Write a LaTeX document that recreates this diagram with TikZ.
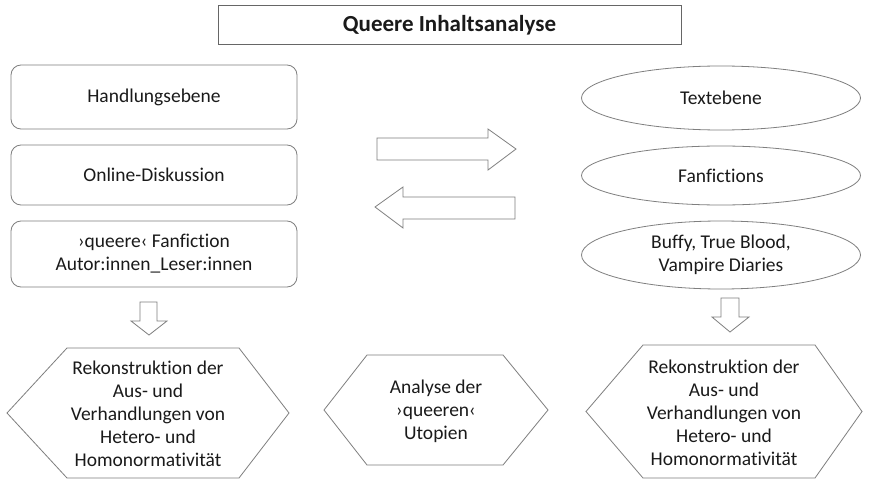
\documentclass[tikz,border=0pt]{standalone}
\usepackage{fontspec}
\setmainfont{Carlito}[Ligatures=NoCommon]
\usetikzlibrary{shapes.geometric}
\definecolor{linegray}{HTML}{7F7F7F}
\definecolor{textgray}{HTML}{1A1A1A}
\begin{document}
\begin{tikzpicture}[x=1pt,y=-1pt,
    every node/.style={text=textgray, align=center, inner sep=0pt,
      font=\fontsize{19.5}{23}\selectfont},
    titlebox/.style={draw=linegray!80!black, line width=1pt,
      minimum width=463pt, minimum height=39pt, font=\fontsize{23}{26}\selectfont\bfseries},
    roundbox/.style={draw=linegray, line width=0.8pt, rounded corners=10pt,
      minimum width=286pt},
    oval/.style={draw=linegray, line width=0.8pt, ellipse, minimum width=279pt},
    outline/.style={draw=linegray, fill=white, line width=0.8pt}]
  \useasboundingbox[fill=white] (0,0) rectangle (869,489);

  % title
  \node[titlebox] (title) at (449.5,25.5) {Queere Inhaltsanalyse};

  % left column: Handlungsebene
  \node[roundbox, minimum height=64pt] (handlung) at (154,97) {Handlungsebene};
  \node[roundbox, minimum height=60pt] (online) at (154,175) {Online-Diskussion};
  \node[roundbox, minimum height=66pt] (autoren) at (154,254)
    {›queere‹ Fanfiction\\Autor:innen\_Leser:innen};

  % right column: Textebene
  \node[oval, minimum height=64pt] (text) at (721,98) {Textebene};
  \node[oval, minimum height=59pt] (fanfic) at (721,175.5) {Fanfictions};
  \node[oval, minimum height=68pt] (serien) at (721,255)
    {Buffy, True Blood,\\Vampire Diaries};

  % block arrows between the columns
  \draw[outline] (377,138) -- (488,138) -- (488,129) -- (516,149)
    -- (488,170) -- (488,160) -- (377,160) -- cycle;
  \draw[outline] (515,197) -- (403,197) -- (403,187) -- (375,207)
    -- (403,228) -- (403,219) -- (515,219) -- cycle;

  % down arrows
  \draw[outline] (140,302) -- (157,302) -- (157,321) -- (167,321)
    -- (149,335) -- (131,321) -- (140,321) -- cycle;
  \draw[outline] (721,298) -- (739,298) -- (739,317) -- (749,317)
    -- (730,332) -- (712,317) -- (721,317) -- cycle;

  % hexagons
  \draw[outline] (7,413) -- (67,348) -- (239,348) -- (289,413)
    -- (239,478) -- (67,478) -- cycle;
  \draw[outline] (324,410) -- (367,355) -- (503,355) -- (548,410)
    -- (503,465) -- (367,465) -- cycle;
  \draw[outline] (586,411.5) -- (643,345) -- (815,345) -- (862,411.5)
    -- (815,478) -- (643,478) -- cycle;

  \node (rekonL) at (148,414) {Rekonstruktion der\\Aus- und\\Verhandlungen von\\Hetero- und\\Homonormativität};
  \node (utopie) at (436,411) {Analyse der\\›queeren‹\\Utopien};
  \node (rekonR) at (724,412.5) {Rekonstruktion der\\Aus- und\\Verhandlungen von\\Hetero- und\\Homonormativität};
\end{tikzpicture}
\end{document}
